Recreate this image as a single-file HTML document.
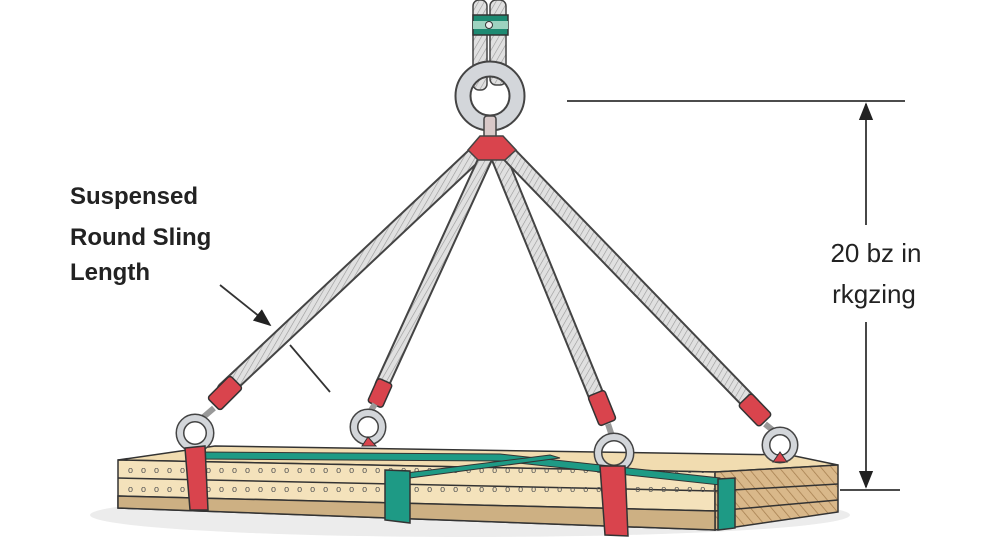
<!DOCTYPE html>
<html><head><meta charset="utf-8"><style>
body{margin:0;background:#fff;}
svg{display:block}
text{font-family:"Liberation Sans",sans-serif;}
</style></head><body>
<svg width="1000" height="545" viewBox="0 0 1000 545" xmlns="http://www.w3.org/2000/svg">
<defs>
<pattern id="rope" width="5" height="5" patternUnits="userSpaceOnUse" patternTransform="rotate(30)">
<rect width="5" height="5" fill="#e0e0e0"/><line x1="0" y1="0" x2="0" y2="5" stroke="#999" stroke-width="1.2"/></pattern>
<pattern id="grain" width="8" height="8" patternUnits="userSpaceOnUse" patternTransform="rotate(-40)">
<rect width="8" height="8" fill="#d9b88a"/><line x1="0" y1="0" x2="0" y2="8" stroke="#a57e4f" stroke-width="1.5"/></pattern>
<marker id="ah" markerWidth="10" markerHeight="10" refX="9" refY="5" orient="auto"><path d="M0,1 L10,5 L0,9z" fill="#222"/></marker>
<clipPath id="front"><path d="M118,460 L715,472 L715,511 L118,496z"/></clipPath>
</defs>
<ellipse cx="470" cy="515" rx="380" ry="22" fill="#ececec"/>
<!-- top cable -->
<rect x="473" y="0" width="14" height="90" rx="6" fill="url(#rope)" stroke="#444" stroke-width="1.5"/>
<rect x="490" y="0" width="16" height="85" rx="6" fill="url(#rope)" stroke="#444" stroke-width="1.5"/>
<rect x="473" y="15" width="35" height="20" fill="#1e8a72" stroke="#333" stroke-width="1.5"/>
<rect x="473" y="21" width="35" height="8" fill="#9ed3c0"/>
<circle cx="489" cy="25" r="3.5" fill="#eee" stroke="#333"/>
<!-- ring -->
<circle cx="490" cy="96" r="27" fill="none" stroke="#444" stroke-width="17"/>
<circle cx="490" cy="96" r="27" fill="none" stroke="#d3d6da" stroke-width="13"/>
<!-- legs -->
<g stroke-linecap="round">
<line x1="480" y1="150" x2="225" y2="390" stroke="#444" stroke-width="17"/>
<line x1="480" y1="150" x2="225" y2="390" stroke="url(#rope)" stroke-width="13"/>
<line x1="487" y1="155" x2="382" y2="385" stroke="#444" stroke-width="15"/>
<line x1="487" y1="155" x2="382" y2="385" stroke="url(#rope)" stroke-width="11"/>
<line x1="498" y1="155" x2="598" y2="400" stroke="#444" stroke-width="17"/>
<line x1="498" y1="155" x2="598" y2="400" stroke="url(#rope)" stroke-width="13"/>
<line x1="505" y1="150" x2="752" y2="405" stroke="#444" stroke-width="17"/>
<line x1="505" y1="150" x2="752" y2="405" stroke="url(#rope)" stroke-width="13"/>
</g>
<rect x="484" y="116" width="12" height="30" rx="3" fill="#d8c8c8" stroke="#444" stroke-width="1.5"/>
<path d="M468,150 L480,136 L503,136 L516,150 L505,160 L478,160z" fill="#d9444d" stroke="#444" stroke-width="1.5"/>
<!-- sleeves -->
<g fill="#d9444d" stroke="#333" stroke-width="1.5">
<rect x="-9" y="-16" width="18" height="32" rx="3" transform="translate(225,393) rotate(45)"/>
<rect x="-8" y="-13" width="16" height="26" rx="3" transform="translate(380,393) rotate(24)"/>
<rect x="-9" y="-16" width="18" height="32" rx="3" transform="translate(602,408) rotate(-22)"/>
<rect x="-9" y="-15" width="18" height="30" rx="3" transform="translate(755,410) rotate(-44)"/>
</g>
<g fill="none" stroke-width="6">
<line x1="214" y1="408" x2="200" y2="420" stroke="#999"/>
<line x1="375" y1="404" x2="370" y2="412" stroke="#999"/>
<line x1="608" y1="424" x2="612" y2="436" stroke="#999"/>
<line x1="765" y1="424" x2="775" y2="432" stroke="#999"/>
</g>
<!-- lumber -->
<path d="M118,460 L215,446 L790,455 L838,465 L715,472z" fill="#f1dcb0" stroke="#333" stroke-width="1.5"/>
<path d="M118,460 L715,472 L715,530 L118,508z" fill="#f4e2bb" stroke="#333" stroke-width="1.5"/>
<path d="M715,472 L838,465 L838,512 L715,530z" fill="url(#grain)" stroke="#333" stroke-width="1.5"/>
<path d="M118,478 L715,491 L838,484 M118,496 L715,511 L838,500" fill="none" stroke="#333" stroke-width="1.5"/>
<path d="M118,496 L715,511 L715,530 L118,508z" fill="#cdb083" stroke="#333" stroke-width="1.5"/>
<g fill="#555" clip-path="url(#front)">
<text x="128" y="473" font-size="9" letter-spacing="8">oooooooooooooooooooooooooooooooooooooooooooooo</text>
<text x="128" y="492" font-size="9" letter-spacing="8">oooooooooooooooooooooooooooooooooooooooooooooo</text>
</g>
<!-- eyes -->
<g fill="none">
<circle cx="195" cy="433" r="15" stroke="#444" stroke-width="9"/><circle cx="195" cy="433" r="15" stroke="#d3d6da" stroke-width="6"/>
<circle cx="368" cy="427" r="14" stroke="#444" stroke-width="9"/><circle cx="368" cy="427" r="14" stroke="#d3d6da" stroke-width="6"/>
<circle cx="614" cy="453" r="16" stroke="#444" stroke-width="9"/><circle cx="614" cy="453" r="16" stroke="#d3d6da" stroke-width="6"/>
<circle cx="780" cy="445" r="14" stroke="#444" stroke-width="9"/><circle cx="780" cy="445" r="14" stroke="#d3d6da" stroke-width="6"/>
</g>
<path d="M362,446 L368,437 L376,446z" fill="#d9444d" stroke="#333"/>
<path d="M773,462 L780,452 L787,462z" fill="#d9444d" stroke="#333"/>
<!-- straps -->
<path d="M200,452 L500,454 L720,478 L720,485 L500,461 L200,459z" fill="#1e9a85" stroke="#333"/>
<path d="M390,475 L550,455 L560,458 L410,478z" fill="#1e9a85" stroke="#333"/>
<path d="M385,470 L410,471 L410,523 L385,520z" fill="#1e9a85" stroke="#333" stroke-width="1.5"/>
<path d="M718,479 L735,478 L735,528 L718,530z" fill="#1e9a85" stroke="#333" stroke-width="1.5"/>
<path d="M185,448 L205,446 L208,510 L190,510z" fill="#d9444d" stroke="#333" stroke-width="1.5"/>
<path d="M600,466 L625,466 L628,536 L605,535z" fill="#d9444d" stroke="#333" stroke-width="1.5"/>
<!-- dimension -->
<g stroke="#333" stroke-width="1.8" fill="none">
<line x1="567" y1="101" x2="905" y2="101"/>
<line x1="840" y1="490" x2="900" y2="490"/>
<line x1="866" y1="225" x2="866" y2="104" marker-end="url(#ah)"/>
<line x1="866" y1="322" x2="866" y2="487" marker-end="url(#ah)"/>
<line x1="220" y1="285" x2="270" y2="325" marker-end="url(#ah)"/>
<line x1="290" y1="345" x2="330" y2="392"/>
</g>
<text x="876" y="262" font-size="26" text-anchor="middle" fill="#222">20 bz in</text>
<text x="874" y="303" font-size="26" text-anchor="middle" fill="#222">rkgzing</text>
<g font-size="24" font-weight="bold" fill="#222">
<text x="70" y="204">Suspensed</text>
<text x="70" y="245">Round Sling</text>
<text x="70" y="280">Length</text>
</g>
</svg>
</body></html>
